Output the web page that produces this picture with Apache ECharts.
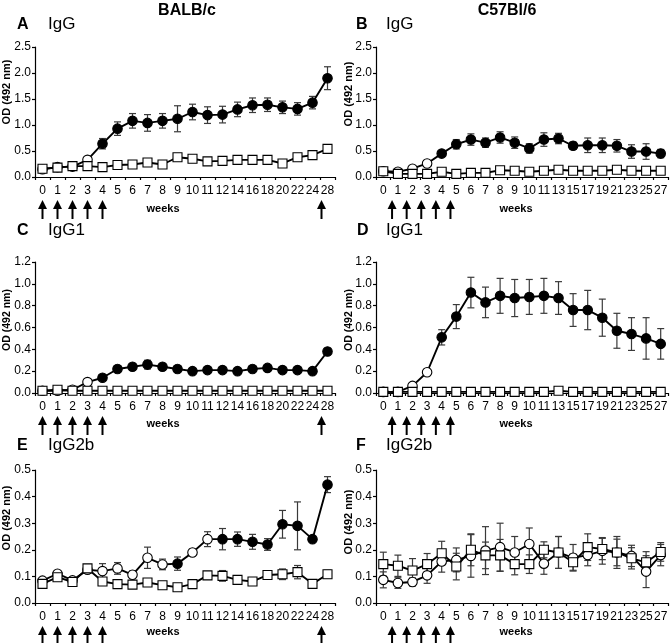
<!DOCTYPE html>
<html>
<head>
<meta charset="utf-8">
<script src="https://cdn.jsdelivr.net/npm/echarts@6/dist/echarts.min.js"></script>
<style>
html,body{margin:0;padding:0;background:#fff}
#chart{width:672px;height:643px}
</style>
</head>
<body>
<div id="chart"></div>
<script>
// week categories
var weeksBalb = ['0','1','2','3','4','5','6','7','8','9','10','11','12','14','16','18','20','22','24','28'];
var weeksC57 = ['0','1','2','3','4','5','6','7','8','9','10','11','13','15','17','19','21','23','25','27'];

// immunisation arrows (position on the category axis, fractional = between ticks)
var arrowsBalb = [0, 1, 2, 3, 4, 18.6];
var arrowsC57 = [0.6, 1.6, 2.6, 3.6, 4.6];

// A  IgG BALB/c
var aImm = [0.15,0.19,0.20,0.33,0.64,0.93,1.08,1.04,1.08,1.12,1.25,1.19,1.20,1.30,1.38,1.39,1.34,1.31,1.43,1.90];
var aImmErr = [0.02,0.02,0.02,0.02,0.10,0.13,0.14,0.16,0.14,0.25,0.15,0.16,0.16,0.14,0.14,0.13,0.12,0.12,0.12,0.22];
var aFilled = [0,0,0,0,1,1,1,1,1,1,1,1,1,1,1,1,1,1,1,1];
var aCtl = [0.16,0.18,0.21,0.21,0.19,0.23,0.24,0.28,0.24,0.38,0.35,0.30,0.31,0.33,0.33,0.33,0.26,0.38,0.42,0.54];
var aCtlErr = [0.02,0.02,0.02,0.02,0.02,0.02,0.02,0.03,0.02,0.05,0.03,0.02,0.02,0.02,0.02,0.02,0.02,0.02,0.03,0.03];

// B  IgG C57Bl/6
var bImm = [0.11,0.10,0.16,0.26,0.45,0.63,0.72,0.66,0.76,0.66,0.55,0.72,0.74,0.60,0.61,0.61,0.60,0.49,0.49,0.45];
var bImmErr = [0.01,0.01,0.01,0.02,0.03,0.09,0.11,0.09,0.11,0.11,0.09,0.13,0.10,0.07,0.14,0.14,0.12,0.13,0.15,0.08];
var bFilled = [0,0,0,0,1,1,1,1,1,1,1,1,1,1,1,1,1,1,1,1];
var bCtl = [0.11,0.06,0.06,0.06,0.10,0.06,0.08,0.08,0.13,0.12,0.10,0.12,0.14,0.12,0.12,0.12,0.14,0.12,0.12,0.12];
var bCtlErr = [0.01,0.01,0.01,0.01,0.01,0.01,0.01,0.01,0.01,0.01,0.01,0.01,0.01,0.01,0.01,0.01,0.01,0.01,0.01,0.01];

// C  IgG1 BALB/c
var cImm = [0.02,0.02,0.03,0.10,0.14,0.22,0.24,0.26,0.24,0.22,0.20,0.21,0.21,0.20,0.22,0.23,0.21,0.21,0.20,0.38];
var cImmErr = [0,0,0,0.01,0.02,0.03,0.03,0.04,0.03,0.03,0.02,0.02,0.02,0.01,0.02,0.02,0.02,0.02,0.02,0.03];
var cFilled = [0,0,0,0,1,1,1,1,1,1,1,1,1,1,1,1,1,1,1,1];
var cCtl = [0.02,0.03,0.02,0.02,0.02,0.02,0.02,0.02,0.02,0.02,0.02,0.02,0.02,0.02,0.02,0.02,0.02,0.02,0.02,0.02];
var cCtlErr = [0,0,0,0,0,0,0,0,0,0,0,0,0,0,0,0,0,0,0,0];

// D  IgG1 C57Bl/6
var dImm = [0.01,0.01,0.065,0.19,0.51,0.70,0.92,0.83,0.89,0.87,0.88,0.89,0.87,0.76,0.76,0.69,0.57,0.54,0.50,0.45];
var dImmErr = [0,0,0,0.01,0.07,0.11,0.14,0.14,0.16,0.17,0.16,0.16,0.15,0.15,0.18,0.17,0.16,0.15,0.19,0.14];
var dFilled = [0,0,0,0,1,1,1,1,1,1,1,1,1,1,1,1,1,1,1,1];
var dCtl = [0.01,0.01,0.01,0.01,0.01,0.01,0.01,0.01,0.01,0.01,0.01,0.01,0.02,0.01,0.01,0.01,0.01,0.01,0.01,0.01];
var dCtlErr = [0,0,0,0,0,0,0,0,0,0,0,0,0,0,0,0,0,0,0,0];

// E  IgG2b BALB/c
var eImm = [0.084,0.11,0.085,0.125,0.12,0.13,0.106,0.17,0.145,0.148,0.19,0.24,0.24,0.24,0.23,0.22,0.296,0.29,0.24,0.445];
var eImmErr = [0.008,0.01,0.005,0.01,0.028,0.022,0.014,0.04,0.02,0.025,0.013,0.028,0.04,0.027,0.028,0.022,0.052,0.09,0,0.03];
var eFilled = [0,0,0,0,0,0,0,0,0,1,0,0,1,1,1,1,1,1,1,1];
var eCtl = [0.072,0.097,0.079,0.13,0.081,0.071,0.069,0.077,0.067,0.059,0.071,0.104,0.102,0.087,0.081,0.105,0.108,0.116,0.072,0.108];
var eCtlErr = [0.005,0.01,0.005,0.012,0.008,0.005,0.005,0.005,0.005,0.005,0.005,0.012,0.02,0.005,0.008,0.015,0.02,0.025,0.003,0.015];

// F  IgG2b C57Bl/6
var fImm = [0.087,0.075,0.079,0.104,0.156,0.162,0.177,0.197,0.21,0.19,0.222,0.148,0.19,0.17,0.18,0.196,0.19,0.177,0.118,0.18];
var fImmErr = [0.03,0.02,0.015,0.03,0.04,0.045,0.08,0.09,0.09,0.06,0.06,0.04,0.06,0.05,0.04,0.05,0.06,0.04,0.06,0.04];
var fFilled = [0,0,0,0,0,0,0,0,0,0,0,0,0,0,0,0,0,0,0,0];
var fCtl = [0.146,0.14,0.122,0.146,0.187,0.137,0.2,0.179,0.179,0.146,0.146,0.2,0.19,0.153,0.21,0.203,0.19,0.168,0.153,0.192];
var fCtlErr = [0.045,0.04,0.045,0.04,0.045,0.05,0.06,0.05,0.06,0.04,0.035,0.03,0.06,0.03,0.05,0.04,0.05,0.04,0.04,0.035];

var FONT = '"Liberation Sans", Arial, sans-serif';

var panels = [
  {weeks: weeksBalb, arrows: arrowsBalb, imm: aImm, immErr: aImmErr, filled: aFilled, ctl: aCtl, ctlErr: aCtlErr, max: 2.5, step: 0.5,
   grid: {left: 35, top: 47, width: 300, height: 130}},
  {weeks: weeksC57, arrows: arrowsC57, imm: bImm, immErr: bImmErr, filled: bFilled, ctl: bCtl, ctlErr: bCtlErr, max: 2.5, step: 0.5,
   grid: {left: 376, top: 47, width: 292, height: 130}},
  {weeks: weeksBalb, arrows: arrowsBalb, imm: cImm, immErr: cImmErr, filled: cFilled, ctl: cCtl, ctlErr: cCtlErr, max: 1.2, step: 0.2,
   grid: {left: 35, top: 262, width: 300, height: 131}},
  {weeks: weeksC57, arrows: arrowsC57, imm: dImm, immErr: dImmErr, filled: dFilled, ctl: dCtl, ctlErr: dCtlErr, max: 1.2, step: 0.2,
   grid: {left: 376, top: 262, width: 292, height: 131}},
  {weeks: weeksBalb, arrows: arrowsBalb, imm: eImm, immErr: eImmErr, filled: eFilled, ctl: eCtl, ctlErr: eCtlErr, max: 0.5, step: 0.1,
   grid: {left: 35, top: 470, width: 300, height: 133}},
  {weeks: weeksC57, arrows: arrowsC57, imm: fImm, immErr: fImmErr, filled: fFilled, ctl: fCtl, ctlErr: fCtlErr, max: 0.5, step: 0.1,
   grid: {left: 376, top: 470, width: 292, height: 133}}
];

function renderErr(params, api) {
  var lo = api.coord([api.value(0), api.value(1)]);
  var hi = api.coord([api.value(0), api.value(2)]);
  if (Math.abs(lo[1] - hi[1]) < 0.5) return null;
  var w = 3.5;
  var st = {stroke: '#3a3a3a', lineWidth: 1.2};
  return {type: 'group', children: [
    {type: 'line', shape: {x1: hi[0], y1: hi[1], x2: lo[0], y2: lo[1]}, style: st},
    {type: 'line', shape: {x1: hi[0] - w, y1: hi[1], x2: hi[0] + w, y2: hi[1]}, style: st},
    {type: 'line', shape: {x1: lo[0] - w, y1: lo[1], x2: lo[0] + w, y2: lo[1]}, style: st}
  ]};
}

function arrowRenderer(arr) {
  return function (params, api) {
    var p = arr[params.dataIndex];
    var base = Math.floor(p);
    var pt = api.coord([base, 0]);
    var x = pt[0] + (p - base) * api.size([1, 0])[0];
    var top = pt[1] + 23, bot = pt[1] + 42;
    return {type: 'group', children: [
      {type: 'line', shape: {x1: x, y1: top + 6, x2: x, y2: bot}, style: {stroke: '#000', lineWidth: 2}},
      {type: 'polygon', shape: {points: [[x, top], [x - 4.5, top + 9], [x + 4.5, top + 9]]}, style: {fill: '#000'}}
    ]};
  };
}

var grids = [], xAxes = [], yAxes = [], series = [];
panels.forEach(function (p, k) {
  grids.push({left: p.grid.left, top: p.grid.top, width: p.grid.width, height: p.grid.height, outerBoundsMode: 'none', containLabel: false});
  xAxes.push({
    type: 'category', gridIndex: k, data: p.weeks, boundaryGap: true,
    axisLine: {show: true, onZero: false, lineStyle: {color: '#000', width: 1.2}},
    axisTick: {show: true, inside: false, length: 3, lineStyle: {color: '#000', width: 1.2}},
    axisLabel: {interval: 0, margin: 8, color: '#000', fontSize: 12, fontFamily: FONT},
    splitLine: {show: false}
  });
  yAxes.push({
    type: 'value', gridIndex: k, min: 0, max: p.max, interval: p.step,
    axisLine: {show: true, lineStyle: {color: '#000', width: 1.2}},
    axisTick: {show: true, inside: false, length: 3, lineStyle: {color: '#000', width: 1.2}},
    axisLabel: {margin: 4, color: '#000', fontSize: 12, fontFamily: FONT,
      formatter: function (v) { return v.toFixed(1); }},
    splitLine: {show: false}
  });
  series.push({
    type: 'custom', xAxisIndex: k, yAxisIndex: k, z: 1, silent: true,
    renderItem: renderErr,
    data: p.imm.map(function (v, i) { return [i, v - p.immErr[i], v + p.immErr[i]]; })
  });
  series.push({
    type: 'custom', xAxisIndex: k, yAxisIndex: k, z: 1, silent: true,
    renderItem: renderErr,
    data: p.ctl.map(function (v, i) { return [i, v - p.ctlErr[i], v + p.ctlErr[i]]; })
  });
  series.push({
    type: 'line', xAxisIndex: k, yAxisIndex: k, z: 2, silent: true,
    symbol: 'circle', symbolSize: 9.5, showAllSymbol: true,
    lineStyle: {color: '#000', width: 1.9},
    itemStyle: {color: '#000', borderColor: '#000', borderWidth: 1.1},
    data: p.imm.map(function (v, i) {
      return {value: v, itemStyle: {color: p.filled[i] ? '#000' : '#fff'}};
    })
  });
  series.push({
    type: 'line', xAxisIndex: k, yAxisIndex: k, z: 3, silent: true,
    symbol: 'rect', symbolSize: 9, showAllSymbol: true,
    lineStyle: {color: '#000', width: 1.9},
    itemStyle: {color: '#fff', borderColor: '#000', borderWidth: 1.1},
    data: p.ctl
  });
  series.push({
    type: 'custom', xAxisIndex: k, yAxisIndex: k, z: 1, silent: true, clip: false,
    renderItem: arrowRenderer(p.arrows),
    data: p.arrows.map(function (a) { return [Math.floor(a), 0]; })
  });
});

function txt(x, y, s, size, bold, align, rot) {
  return {type: 'text', x: x, y: y, rotation: rot || 0, silent: true,
    style: {text: s, fill: '#000', fontSize: size, fontWeight: bold ? 'bold' : 'normal',
      fontFamily: FONT, align: align || 'left', verticalAlign: 'middle'}};
}

var graphics = [
  txt(187, 11, 'BALB/c', 16, true, 'center'),
  txt(507, 11, 'C57Bl/6', 16, true, 'center'),
  txt(17, 25, 'A', 16, true), txt(48, 24, 'IgG', 17, false),
  txt(356, 25, 'B', 16, true), txt(386, 24, 'IgG', 17, false),
  txt(17, 231, 'C', 16, true), txt(48, 230, 'IgG1', 17, false),
  txt(357, 231, 'D', 16, true), txt(386, 230, 'IgG1', 17, false),
  txt(17, 446, 'E', 16, true), txt(48, 445, 'IgG2b', 17, false),
  txt(356, 446, 'F', 16, true), txt(386, 445, 'IgG2b', 17, false),
  txt(7, 92, 'OD (492 nm)', 11, true, 'center', Math.PI / 2),
  txt(349, 94, 'OD (492 nm)', 11, true, 'center', Math.PI / 2),
  txt(7, 320, 'OD (492 nm)', 10.5, true, 'center', Math.PI / 2),
  txt(349, 320, 'OD (492 nm)', 10.5, true, 'center', Math.PI / 2),
  txt(7, 518, 'OD (492 nm)', 11, true, 'center', Math.PI / 2),
  txt(349, 522, 'OD (492 nm)', 11, true, 'center', Math.PI / 2),
  txt(163, 209, 'weeks', 11, true, 'center'),
  txt(516, 209, 'weeks', 11, true, 'center'),
  txt(163, 424, 'weeks', 11, true, 'center'),
  txt(516, 424, 'weeks', 11, true, 'center'),
  txt(163, 632, 'weeks', 11, true, 'center'),
  txt(516, 632, 'weeks', 11, true, 'center')
];

var chart = echarts.init(document.getElementById('chart'), null, {renderer: 'canvas'});
chart.setOption({
  animation: false,
  backgroundColor: '#fff',
  grid: grids,
  xAxis: xAxes,
  yAxis: yAxes,
  series: series,
  graphic: graphics
});
</script>
</body>
</html>
